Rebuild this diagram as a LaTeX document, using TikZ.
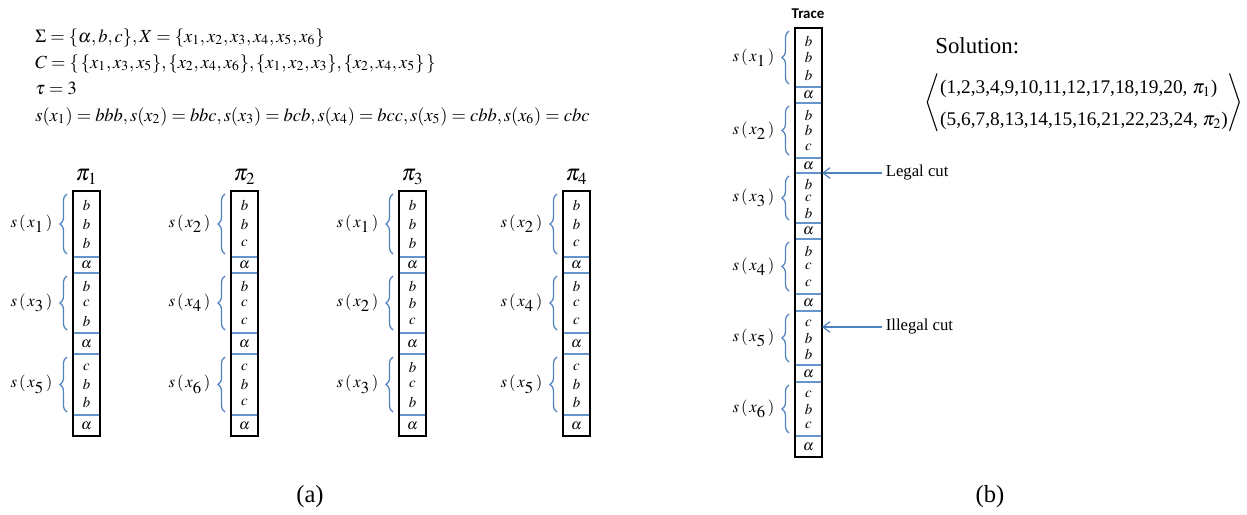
\documentclass[tikz,border=0pt]{standalone}
\usepackage{mathptmx}
\usepackage{fontspec}
\setmainfont{Liberation Serif}
\newfontfamily\tracefont{Carlito}
\definecolor{braceblue}{RGB}{79, 129, 189}
\definecolor{sepblue}{RGB}{100, 150, 205}
\usetikzlibrary{arrows.meta, positioning, decorations.pathreplacing}

\newcommand{\sx}[1]{$s\,(\,x_{\textstyle #1}\,)$}
% one block of a column: name, x, top, bottom, end of alpha cell, index, three letters
\newcommand{\seqgroup}[9]{%
  \draw[sepline] (#2,#4) -- ++(27,0) (#2,#5) -- ++(27,0);
  \node[cell] (#1l1) at ({#2+13.5},{#3+(#4-#3)*0.22}) {$#7$};
  \node[cell] (#1l2) at ({#2+13.5},{#3+(#4-#3)*0.5}) {$#8$};
  \node[cell] (#1l3) at ({#2+13.5},{#3+(#4-#3)*0.8}) {$#9$};
  \node[cell] (#1a) at ({#2+13.5},{(#4+#5)/2}) {$\alpha$};
  \draw[seqbrace] (#2-6,#4-3) -- (#2-6,#3+3) node[seqlabel, midway, left=8pt] (#1s) {\sx{#6}};
}

\begin{document}
\begin{tikzpicture}[x=0.02cm, y=-0.02cm,
  colbox/.style={draw=black, line width=0.8pt},
  sepline/.style={draw=sepblue, line width=0.8pt},
  cell/.style={inner sep=0pt, font=\fontsize{8.5}{9}\selectfont},
  seqbrace/.style={draw=braceblue, line width=0.7pt, decorate, decoration={brace, amplitude=4pt}},
  seqlabel/.style={inner sep=0pt, font=\fontsize{9.5}{10}\selectfont},
  permlabel/.style={inner sep=0pt, font=\fontsize{13}{14}\selectfont},
  infoline/.style={inner sep=0pt, anchor=base west, font=\fontsize{10.5}{12}\selectfont},
  cutarrow/.style={draw=braceblue, line width=0.7pt, -{Straight Barb[length=4pt, width=6pt]}},
  cutlabel/.style={inner sep=2pt, anchor=west, font=\fontsize{9.5}{11}\selectfont},
  panel/.style={font=\fontsize{14}{16}\selectfont}
]
  \useasboundingbox (0,0) rectangle (1247,514);

  % the instance
  \node[infoline] (sigma) at (35,42) {$\Sigma=\{\alpha,b,c\},X=\{x_1,x_2,x_3,x_4,x_5,x_6\}$};
  \node[infoline] (cover) at (35,68) {$C=\{\,\{x_1,x_3,x_5\},\{x_2,x_4,x_6\},\{x_1,x_2,x_3\},\{x_2,x_4,x_5\}\,\}$};
  \node[infoline] (tau) at (35,94) {$\tau=3$};
  \node[infoline] (strings) at (35,121) {$s(x_1)=bbb,s(x_2)=bbc,s(x_3)=bcb,s(x_4)=bcc,s(x_5)=cbb,s(x_6)=cbc$};

  % (a) the four columns
  \foreach \cx/\pn in {73/1, 231/2, 399/3, 563/4}
    \node[permlabel] (pi\pn) at (\cx+13.5,177) {$\pi_{\pn}$};
  \seqgroup{pa}{73}{191}{257}{273}{1}{b}{b}{b}
  \seqgroup{pb}{73}{273}{333}{354}{3}{b}{c}{b}
  \seqgroup{pc}{73}{354}{415}{436}{5}{c}{b}{b}
  \seqgroup{qa}{231}{191}{257}{273}{2}{b}{b}{c}
  \seqgroup{qb}{231}{273}{333}{354}{4}{b}{c}{c}
  \seqgroup{qc}{231}{354}{415}{436}{6}{c}{b}{c}
  \seqgroup{ra}{399}{191}{257}{273}{1}{b}{b}{b}
  \seqgroup{rb}{399}{273}{333}{354}{2}{b}{b}{c}
  \seqgroup{rc}{399}{354}{415}{436}{3}{b}{c}{b}
  \seqgroup{ta}{563}{191}{257}{273}{2}{b}{b}{c}
  \seqgroup{tb}{563}{273}{333}{354}{4}{b}{c}{c}
  \seqgroup{tc}{563}{354}{415}{436}{5}{c}{b}{b}
  \foreach \cx in {73, 231, 399, 563}
    \draw[colbox] (\cx,191) rectangle ++(27,245);
  \node[panel] (panela) at (310,497) {(a)};

  % (b) the trace
  \node[font=\tracefont\bfseries\fontsize{8.5}{10}\selectfont] (trace) at (808,14) {Trace};
  \seqgroup{ua}{795}{28}{87}{103}{1}{b}{b}{b}
  \seqgroup{ub}{795}{103}{158}{173}{2}{b}{b}{c}
  \seqgroup{uc}{795}{173}{223}{239}{3}{b}{c}{b}
  \seqgroup{ud}{795}{239}{294}{311}{4}{b}{c}{c}
  \seqgroup{ue}{795}{311}{365}{382}{5}{c}{b}{b}
  \seqgroup{uf}{795}{382}{436}{457}{6}{c}{b}{c}
  \draw[colbox] (795,28) rectangle (822,457);

  \node[cutlabel] (legal) at (882,173) {Legal cut};
  \coordinate (legalcut) at (822,173);
  \draw[cutarrow] (legal.west) -- (legalcut);
  \node[cutlabel] (illegal) at (882,327) {Illegal cut};
  \coordinate (illegalcut) at (822,327);
  \draw[cutarrow] (illegal.west) -- (illegalcut);

  \node[inner sep=0pt, anchor=base west, font=\fontsize{13}{15}\selectfont] (solhead) at (935,53) {Solution:};
  \node[inner sep=0pt, font=\fontsize{11}{13}\selectfont] (solution) at (1084,103)
    {\renewcommand{\arraystretch}{1.4}$\left\langle\begin{array}{@{}l@{}}
      \mbox{(1,2,3,4,9,10,11,12,17,18,19,20, $\pi_1$)}\\
      \mbox{(5,6,7,8,13,14,15,16,21,22,23,24, $\pi_2$)}
    \end{array}\right\rangle$};
  \node[panel] (panelb) at (990,497) {(b)};
\end{tikzpicture}
\end{document}
